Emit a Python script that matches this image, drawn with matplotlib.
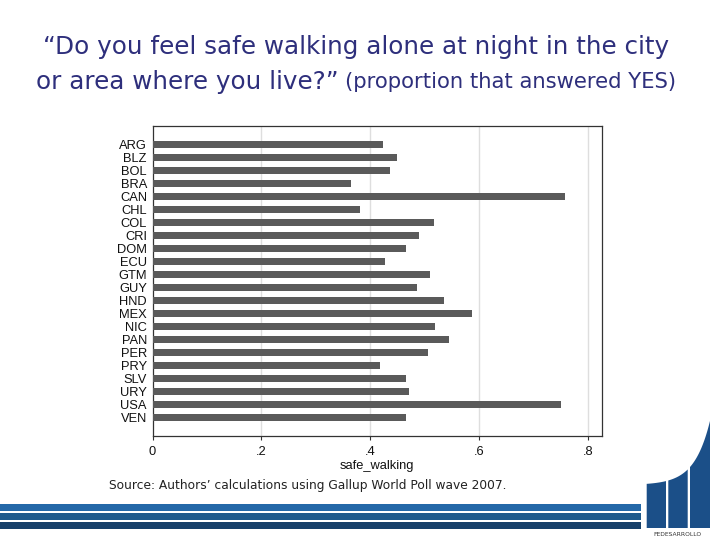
import matplotlib
matplotlib.use("Agg")
import matplotlib.pyplot as plt
from matplotlib.patches import Rectangle, Polygon
import numpy as np

countries = ["ARG", "BLZ", "BOL", "BRA", "CAN", "CHL", "COL", "CRI", "DOM", "ECU", "GTM",
             "GUY", "HND", "MEX", "NIC", "PAN", "PER", "PRY", "SLV", "URY", "USA", "VEN"]
safe_walking = [0.424, 0.448, 0.436, 0.364, 0.757, 0.381, 0.516, 0.490, 0.466, 0.426, 0.510,
                0.486, 0.535, 0.586, 0.518, 0.544, 0.505, 0.418, 0.465, 0.470, 0.749, 0.466]
xticks = [0, 0.2, 0.4, 0.6, 0.8]
xticklabels = ["0", ".2", ".4", ".6", ".8"]

W, H = 720, 540
fig = plt.figure(figsize=(7.2, 5.4), dpi=100)
fig.patch.set_facecolor("white")

def fx(px):
    return px / W

def fy(py):
    return 1 - py / H

# ---- main axes ----
left, right, top, bottom = 152.5, 601.7, 126, 436
ax = fig.add_axes([fx(left), fy(bottom), fx(right - left), (bottom - top) / H])
ypos = np.arange(len(countries))
ax.barh(ypos, safe_walking, height=0.55, color="#5a5a5a", zorder=3)
ax.set_xlim(0, 0.8246)
ax.set_ylim(len(countries) - 1 + 1.4, -1.4)
ax.set_yticks(ypos)
ax.set_yticklabels(countries, fontsize=9.3, family="Liberation Sans", color="#111111")
ax.set_xticks(xticks)
ax.set_xticklabels(xticklabels, fontsize=9.3, family="Liberation Sans", color="#111111")
ax.tick_params(axis="y", length=0, pad=4)
ax.tick_params(axis="x", length=3, width=0.8, color="#333333", pad=4.5)
ax.set_xlabel("safe_walking", fontsize=9.3, family="Liberation Sans", color="#111111", labelpad=1)
for x in xticks[1:]:
    ax.axvline(x, color="#dedede", lw=1.0, zorder=1)
for s in ax.spines.values():
    s.set_color("#333333")
    s.set_linewidth(0.9)

# ---- title ----
title_color = "#2e2f7c"
fig.text(fx(356), fy(47), "\u201cDo you feel safe walking alone at night in the city",
         ha="center", va="center", fontsize=17.7, family="DejaVu Sans", color=title_color)
fig.text(fx(339), fy(82), "or area where you live?\u201d",
         ha="right", va="center", fontsize=17.7, family="DejaVu Sans", color=title_color)
fig.text(fx(345), fy(82), "(proportion that answered YES)",
         ha="left", va="center", fontsize=15.2, family="DejaVu Sans", color=title_color)

# ---- source ----
fig.text(fx(109), fy(486), "Source: Authors\u2019 calculations using Gallup World Poll wave 2007.",
         ha="left", va="center", fontsize=8.85, family="DejaVu Sans", color="#222222")

# ---- bottom stripes ----
stripes = [(504, 511, "#2468a8"), (512.7, 520, "#1f5a8c"), (521.7, 529.3, "#16406a")]
for y0, y1, c in stripes:
    fig.patches.append(Rectangle((0, fy(y1)), fx(641), (y1 - y0) / H,
                                 transform=fig.transFigure, facecolor=c, edgecolor="none"))

# ---- logo ----
logo_c = "#1b4f88"
def top_y(x):
    return 485 - 1.1 * np.exp(0.0635 * (x - 646))

for x0, x1 in [(646.7, 666), (668.3, 687.7), (690, 710)]:
    xs = np.linspace(x0, x1, 30)
    pts = [(fx(x0), fy(528))] + [(fx(x), fy(top_y(x))) for x in xs] + [(fx(x1), fy(528))]
    fig.patches.append(Polygon(pts, closed=True, transform=fig.transFigure,
                               facecolor=logo_c, edgecolor="none"))
fig.text(fx(677), fy(534.5), "FEDESARROLLO", ha="center", va="center", fontsize=4.3,
         family="DejaVu Sans", color="#333333")

fig.savefig("out.png", dpi=100)
